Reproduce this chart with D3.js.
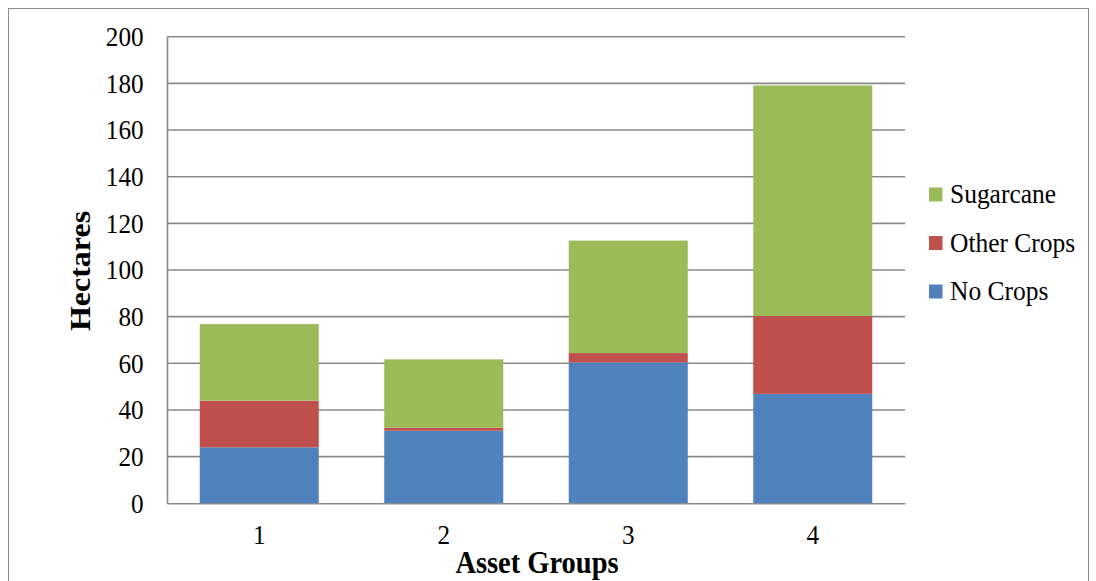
<!DOCTYPE html>
<html><head><meta charset="utf-8">
<script src="https://cdn.jsdelivr.net/npm/d3@7"></script>
<style>body{margin:0;background:#fff}svg{display:block}</style>
</head><body>
<svg id="c" width="1096" height="581"></svg>
<script>
const categories = ["1","2","3","4"];
const seriesNames = ["No Crops","Other Crops","Sugarcane"];
const noCrops = [24.0, 31.1, 60.4, 46.9];
const otherCrops = [20.0, 1.3, 4.0, 33.4];
const sugarcane = [32.8, 29.3, 48.2, 98.8];
const colors = ["#4F81BD","#C0504D","#9BBB59"];
const yTicks = [0,20,40,60,80,100,120,140,160,180,200];

const svg = d3.select("#c");
const font = "'Liberation Serif','Times New Roman',serif";
const m = {left:167, right:905, top:36.7, bottom:503.3};
const sx = 0.9;

svg.append("rect").attr("x",8.5).attr("y",8.5).attr("width",1080).attr("height",620)
  .attr("fill","none").attr("stroke","#8c8c8c").attr("stroke-width",1);

const x = d3.scaleBand().domain(categories).range([m.left,m.right]).paddingInner(0.355).paddingOuter(0.1775);
const y = d3.scaleLinear().domain([0,200]).range([m.bottom,m.top]);

// gridlines
svg.append("g").selectAll("line").data(yTicks.filter(d=>d>0)).join("line")
  .attr("x1",m.left).attr("x2",m.right).attr("y1",d=>y(d)).attr("y2",d=>y(d))
  .attr("stroke","#8a8a8a").attr("stroke-width",1.6);

const rows = categories.map((c,i)=>({cat:c,"No Crops":noCrops[i],"Other Crops":otherCrops[i],"Sugarcane":sugarcane[i]}));
const stack = d3.stack().keys(seriesNames)(rows);
svg.append("g").selectAll("g").data(stack).join("g").attr("fill",(d,i)=>colors[i])
  .selectAll("rect").data(d=>d).join("rect")
  .attr("x",d=>x(d.data.cat)).attr("width",x.bandwidth())
  .attr("y",d=>y(d[1])).attr("height",d=>y(d[0])-y(d[1]));

const yAxis = svg.append("g").attr("transform",`translate(${m.left},0)`)
  .call(d3.axisLeft(y).tickValues(yTicks).tickSize(0).tickPadding(26));
yAxis.select(".domain").attr("stroke","#8a8a8a").attr("stroke-width",1.6);
yAxis.selectAll("text").attr("font-family",font).attr("font-size",28).attr("fill","#000")
  .attr("transform",`scale(${sx},1)`);

const xAxis = svg.append("g").attr("transform",`translate(0,${m.bottom})`)
  .call(d3.axisBottom(x).tickSize(0).tickPadding(21));
xAxis.select(".domain").attr("stroke","#8a8a8a").attr("stroke-width",1.6);
xAxis.selectAll("text").attr("font-family",font).attr("font-size",28).attr("fill","#000")
  .attr("transform",`scale(${sx},1)`);

svg.append("text").attr("transform","translate(90,271) rotate(-90) scale(1,0.9)").attr("text-anchor","middle")
  .attr("font-family",font).attr("font-weight","bold").attr("font-size",32).text("Hectares");
svg.append("text").attr("transform",`translate(537,573) scale(0.89,1)`).attr("text-anchor","middle")
  .attr("font-family",font).attr("font-weight","bold").attr("font-size",32).text("Asset Groups");

// legend
const legendOrder = ["Sugarcane","Other Crops","No Crops"];
const lg = svg.append("g").selectAll("g").data(legendOrder).join("g")
  .attr("transform",(d,i)=>`translate(929,${194.5+i*48.5})`);
lg.append("rect").attr("x",0).attr("y",-7).attr("width",13.5).attr("height",14)
  .attr("fill",d=>colors[seriesNames.indexOf(d)]);
lg.append("text").attr("transform",`translate(21,8.5) scale(0.91,1)`)
  .attr("font-family",font).attr("font-size",28).text(d=>d);
</script>
</body></html>
